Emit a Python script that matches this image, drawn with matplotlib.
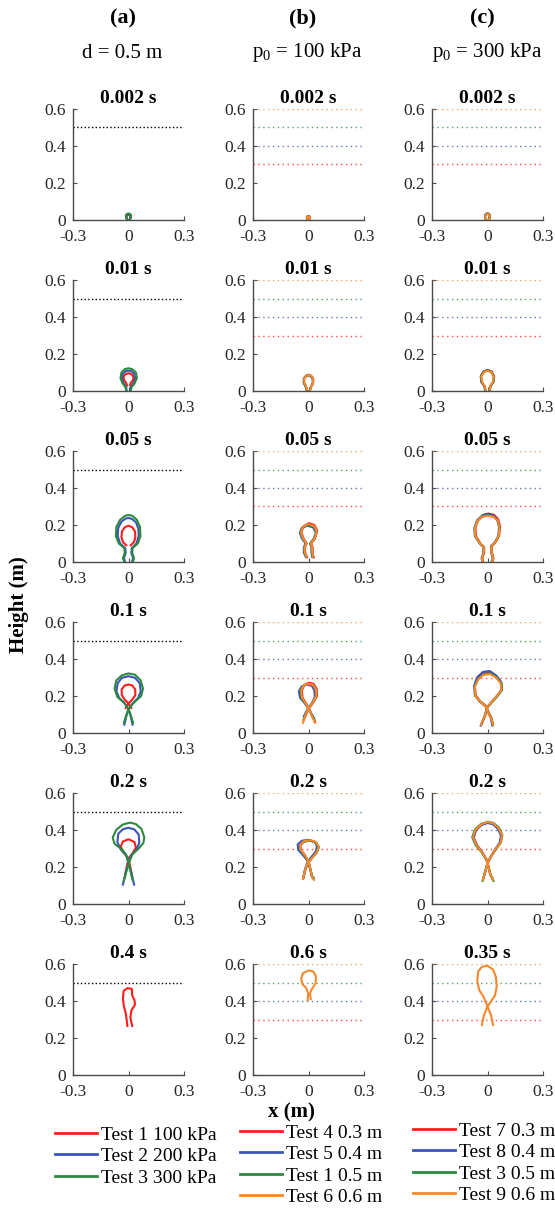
import matplotlib.pyplot as plt
from matplotlib.lines import Line2D

plt.rcParams['font.family'] = ['Liberation Serif', 'DejaVu Serif']
plt.rcParams['mathtext.fontset'] = 'custom'
plt.rcParams['mathtext.rm'] = 'Liberation Serif'

RED = '#ff1c1c'
BLUE = '#3a55b4'
GREEN = '#2b8a3e'
ORANGE = '#f7882c'
AXC = '#4a4a4a'

# ---- data: bubble outlines (x, height) in m ----
# column (a): d = 0.5 m, Test 1/2/3
A1_RED = [(-0.005, 0.0), (-0.01, 0.01), (-0.011, 0.02), (-0.006, 0.026), (0.0, 0.028), (0.006, 0.026), (0.011, 0.02), (0.01, 0.01), (0.005, 0.0)]
A1_BLUE = [(-0.006, 0.0), (-0.011, 0.012), (-0.012, 0.024), (-0.007, 0.031), (0.0, 0.033), (0.007, 0.031), (0.012, 0.024), (0.011, 0.012), (0.006, 0.0)]
A1_GREEN = [(-0.007, 0.0), (-0.013, 0.012), (-0.014, 0.026), (-0.008, 0.033), (0.0, 0.035), (0.008, 0.033), (0.014, 0.026), (0.013, 0.012), (0.007, 0.0)]

A2_RED = [(-0.008, 0.03), (-0.013, 0.045), (-0.025, 0.06), (-0.026, 0.078), (-0.016, 0.091), (0.0, 0.096), (0.016, 0.091), (0.026, 0.078), (0.025, 0.06), (0.013, 0.045), (0.008, 0.03)]
A2_BLUE = [(-0.01, 0.0), (-0.012, 0.02), (-0.028, 0.045), (-0.036, 0.07), (-0.03, 0.095), (-0.015, 0.107), (0.0, 0.11), (0.015, 0.107), (0.03, 0.095), (0.036, 0.07), (0.028, 0.045), (0.012, 0.02), (0.01, 0.0)]
A2_GREEN = [(-0.012, 0.0), (-0.016, 0.02), (-0.032, 0.042), (-0.043, 0.07), (-0.038, 0.1), (-0.02, 0.118), (0.0, 0.123), (0.02, 0.118), (0.04, 0.1), (0.045, 0.07), (0.033, 0.042), (0.016, 0.02), (0.012, 0.0)]

A3_RED = [(-0.012, 0.09), (-0.03, 0.108), (-0.038, 0.135), (-0.035, 0.165), (-0.02, 0.188), (0.0, 0.196), (0.02, 0.188), (0.035, 0.165), (0.037, 0.135), (0.03, 0.108), (0.012, 0.09)]
A3_BLUE = [(-0.018, 0.0), (-0.025, 0.02), (-0.015, 0.05), (-0.018, 0.075), (-0.045, 0.1), (-0.058, 0.14), (-0.055, 0.185), (-0.038, 0.218), (-0.015, 0.235), (0.0, 0.238), (0.018, 0.233), (0.04, 0.215), (0.053, 0.18), (0.055, 0.14), (0.043, 0.1), (0.018, 0.075), (0.015, 0.05), (0.025, 0.02), (0.018, 0.0)]
A3_GREEN = [(-0.022, 0.0), (-0.03, 0.02), (-0.02, 0.05), (-0.022, 0.075), (-0.052, 0.1), (-0.068, 0.14), (-0.065, 0.19), (-0.045, 0.228), (-0.018, 0.25), (0.0, 0.254), (0.02, 0.25), (0.045, 0.228), (0.062, 0.19), (0.064, 0.14), (0.05, 0.1), (0.022, 0.075), (0.02, 0.05), (0.03, 0.02), (0.022, 0.0)]

A4_RED = [(0.015, 0.135), (0.0, 0.16), (-0.02, 0.18), (-0.036, 0.205), (-0.037, 0.235), (-0.022, 0.256), (0.0, 0.262), (0.02, 0.257), (0.036, 0.235), (0.037, 0.205), (0.02, 0.18), (0.0, 0.16), (-0.015, 0.135)]
A4_BLUE = [(0.022, 0.045), (0.012, 0.09), (0.0, 0.13), (-0.02, 0.16), (-0.05, 0.19), (-0.065, 0.225), (-0.058, 0.27), (-0.035, 0.298), (0.0, 0.307), (0.035, 0.298), (0.06, 0.27), (0.066, 0.225), (0.052, 0.19), (0.022, 0.16), (0.0, 0.13), (-0.012, 0.09), (-0.022, 0.045)]
A4_GREEN = [(0.025, 0.055), (0.012, 0.095), (0.0, 0.13), (-0.025, 0.165), (-0.06, 0.195), (-0.075, 0.24), (-0.065, 0.285), (-0.035, 0.312), (0.0, 0.322), (0.035, 0.315), (0.065, 0.285), (0.078, 0.24), (0.068, 0.2), (0.03, 0.165), (0.0, 0.13), (-0.012, 0.095), (-0.025, 0.055)]

A5_RED = [(-0.02, 0.145), (-0.01, 0.2), (0.0, 0.245), (0.022, 0.275), (0.04, 0.305), (0.032, 0.335), (0.0, 0.35), (-0.03, 0.338), (-0.042, 0.31), (-0.025, 0.278), (0.0, 0.245), (0.01, 0.2), (0.02, 0.145)]
A5_BLUE = [(-0.03, 0.105), (-0.015, 0.17), (0.0, 0.22), (0.012, 0.26), (0.04, 0.29), (0.058, 0.33), (0.055, 0.375), (0.032, 0.403), (0.0, 0.412), (-0.03, 0.404), (-0.055, 0.38), (-0.06, 0.335), (-0.042, 0.295), (-0.012, 0.262), (0.0, 0.22), (0.015, 0.17), (0.03, 0.105)]
A5_GREEN = [(-0.025, 0.125), (-0.01, 0.18), (0.005, 0.23), (0.022, 0.27), (0.055, 0.3), (0.08, 0.33), (0.085, 0.36), (0.07, 0.405), (0.04, 0.432), (0.008, 0.44), (-0.03, 0.43), (-0.065, 0.402), (-0.085, 0.36), (-0.075, 0.325), (-0.04, 0.3), (-0.015, 0.27), (0.0, 0.23), (0.01, 0.18), (0.022, 0.13)]

A6_RED = [(-0.006, 0.265), (-0.01, 0.3), (-0.015, 0.335), (-0.025, 0.37), (-0.03, 0.415), (-0.026, 0.455), (-0.005, 0.47), (0.018, 0.465), (0.02, 0.43), (0.032, 0.405), (0.035, 0.38), (0.016, 0.35), (0.01, 0.31), (0.02, 0.265)]

# column (b): p0 = 100 kPa, Test 4/5/1/6
B1_RED = [(-0.004, 0.0), (-0.008, 0.008), (-0.008, 0.016), (0.0, 0.021), (0.008, 0.016), (0.008, 0.008), (0.004, 0.0)]
B1_BLUE = [(-0.005, 0.0), (-0.009, 0.008), (-0.009, 0.017), (-0.001, 0.022), (0.007, 0.017), (0.008, 0.008), (0.004, 0.0)]
B1_GREEN = [(-0.004, 0.0), (-0.008, 0.009), (-0.008, 0.017), (0.0, 0.022), (0.008, 0.017), (0.008, 0.009), (0.004, 0.0)]
B1_ORANGE = [(-0.004, 0.0), (-0.008, 0.008), (-0.008, 0.016), (0.0, 0.02), (0.008, 0.016), (0.008, 0.008), (0.004, 0.0)]

B2_RED = [(-0.008, 0.005), (-0.012, 0.02), (-0.024, 0.045), (-0.024, 0.07), (-0.012, 0.084), (0.0, 0.088), (0.012, 0.084), (0.025, 0.07), (0.025, 0.045), (0.013, 0.02), (0.008, 0.005)]
B2_BLUE = [(-0.01, 0.005), (-0.014, 0.02), (-0.026, 0.045), (-0.025, 0.068), (-0.013, 0.08), (-0.002, 0.084), (0.01, 0.08), (0.022, 0.068), (0.023, 0.045), (0.012, 0.02), (0.007, 0.005)]
B2_GREEN = [(-0.009, 0.005), (-0.013, 0.02), (-0.025, 0.045), (-0.024, 0.069), (-0.012, 0.082), (0.0, 0.085), (0.012, 0.082), (0.024, 0.069), (0.024, 0.045), (0.013, 0.02), (0.008, 0.005)]
B2_ORANGE = [(-0.008, 0.008), (-0.012, 0.022), (-0.023, 0.045), (-0.023, 0.068), (-0.011, 0.082), (0.001, 0.086), (0.013, 0.082), (0.025, 0.068), (0.024, 0.045), (0.013, 0.022), (0.009, 0.008)]

B3_RED = [(-0.008, 0.025), (-0.018, 0.05), (-0.019, 0.08), (-0.01, 0.1), (-0.028, 0.13), (-0.038, 0.16), (-0.028, 0.192), (0.002, 0.21), (0.032, 0.2), (0.047, 0.168), (0.034, 0.125), (0.014, 0.1), (0.022, 0.08), (0.022, 0.05), (0.028, 0.025)]
B3_BLUE = [(-0.014, 0.028), (-0.025, 0.05), (-0.025, 0.08), (-0.016, 0.1), (-0.036, 0.128), (-0.046, 0.158), (-0.036, 0.185), (-0.006, 0.196), (0.024, 0.188), (0.04, 0.16), (0.028, 0.125), (0.008, 0.1), (0.016, 0.08), (0.016, 0.05), (0.02, 0.028)]
B3_GREEN = [(-0.012, 0.03), (-0.022, 0.05), (-0.022, 0.08), (-0.013, 0.1), (-0.032, 0.13), (-0.042, 0.16), (-0.032, 0.188), (-0.002, 0.2), (0.028, 0.192), (0.043, 0.162), (0.03, 0.125), (0.01, 0.1), (0.018, 0.08), (0.018, 0.05), (0.022, 0.03)]
B3_ORANGE = [(-0.01, 0.03), (-0.02, 0.05), (-0.021, 0.08), (-0.012, 0.1), (-0.03, 0.13), (-0.04, 0.16), (-0.03, 0.19), (0.0, 0.205), (0.03, 0.195), (0.045, 0.165), (0.032, 0.125), (0.012, 0.1), (0.02, 0.08), (0.02, 0.05), (0.025, 0.03)]

B4_RED = [(0.036, 0.06), (0.016, 0.1), (0.002, 0.135), (-0.013, 0.16), (-0.032, 0.19), (-0.036, 0.23), (-0.022, 0.26), (0.003, 0.272), (0.028, 0.265), (0.044, 0.238), (0.046, 0.2), (0.028, 0.17), (0.012, 0.145), (0.002, 0.135), (-0.012, 0.1), (-0.026, 0.07)]
B4_BLUE = [(0.03, 0.08), (0.012, 0.11), (-0.002, 0.135), (-0.02, 0.16), (-0.045, 0.19), (-0.052, 0.225), (-0.036, 0.252), (-0.008, 0.262), (0.018, 0.255), (0.032, 0.23), (0.034, 0.195), (0.02, 0.165), (0.006, 0.145), (-0.002, 0.135), (-0.015, 0.11), (-0.025, 0.09)]
B4_GREEN = [(0.032, 0.07), (0.014, 0.105), (0.0, 0.135), (-0.016, 0.16), (-0.038, 0.19), (-0.043, 0.228), (-0.028, 0.256), (-0.002, 0.266), (0.024, 0.26), (0.04, 0.234), (0.042, 0.198), (0.025, 0.168), (0.01, 0.145), (0.0, 0.135), (-0.013, 0.105), (-0.026, 0.075)]
B4_ORANGE = [(0.035, 0.055), (0.015, 0.1), (0.0, 0.135), (-0.015, 0.16), (-0.035, 0.19), (-0.04, 0.23), (-0.025, 0.258), (0.0, 0.267), (0.025, 0.26), (0.04, 0.235), (0.042, 0.2), (0.025, 0.17), (0.01, 0.145), (0.0, 0.135), (-0.015, 0.1), (-0.03, 0.055)]

B5_RED = [(-0.028, 0.14), (-0.018, 0.18), (-0.004, 0.22), (0.02, 0.25), (0.044, 0.28), (0.054, 0.31), (0.04, 0.333), (0.01, 0.343), (-0.024, 0.338), (-0.044, 0.318), (-0.04, 0.29), (-0.02, 0.265), (0.0, 0.23), (0.01, 0.19), (0.018, 0.15), (0.026, 0.14)]
B5_BLUE = [(-0.026, 0.15), (-0.018, 0.19), (-0.006, 0.225), (0.016, 0.255), (0.04, 0.285), (0.046, 0.315), (0.032, 0.337), (0.0, 0.347), (-0.035, 0.342), (-0.058, 0.322), (-0.055, 0.292), (-0.03, 0.265), (-0.004, 0.232), (0.008, 0.19), (0.016, 0.155)]
B5_GREEN = [(-0.028, 0.14), (-0.02, 0.18), (-0.005, 0.22), (0.018, 0.25), (0.045, 0.278), (0.055, 0.305), (0.042, 0.33), (0.01, 0.342), (-0.026, 0.337), (-0.046, 0.318), (-0.042, 0.29), (-0.022, 0.265), (0.0, 0.23), (0.01, 0.19), (0.02, 0.15), (0.028, 0.14)]
B5_ORANGE = [(-0.03, 0.135), (-0.02, 0.18), (-0.005, 0.22), (0.02, 0.25), (0.045, 0.28), (0.055, 0.31), (0.04, 0.335), (0.01, 0.345), (-0.025, 0.34), (-0.045, 0.32), (-0.04, 0.29), (-0.02, 0.265), (0.0, 0.23), (0.01, 0.19), (0.02, 0.14), (0.03, 0.13)]

B6_ORANGE = [(-0.004, 0.405), (-0.002, 0.44), (-0.012, 0.47), (-0.032, 0.49), (-0.04, 0.52), (-0.03, 0.55), (0.0, 0.565), (0.025, 0.56), (0.04, 0.535), (0.038, 0.495), (0.018, 0.465), (0.008, 0.44), (0.012, 0.41)]

# column (c): p0 = 300 kPa, Test 7/8/3/9
C1_RED = [(-0.007, 0.0), (-0.013, 0.012), (-0.013, 0.026), (-0.006, 0.034), (0.0, 0.036), (0.006, 0.034), (0.013, 0.026), (0.013, 0.012), (0.007, 0.0)]
C1_BLUE = [(-0.008, 0.0), (-0.014, 0.012), (-0.014, 0.025), (-0.007, 0.033), (0.0, 0.035), (0.007, 0.033), (0.013, 0.025), (0.013, 0.012), (0.007, 0.0)]
C1_GREEN = [(-0.007, 0.0), (-0.013, 0.012), (-0.013, 0.024), (-0.006, 0.032), (0.0, 0.034), (0.006, 0.032), (0.013, 0.024), (0.013, 0.012), (0.007, 0.0)]
C1_ORANGE = [(-0.007, 0.0), (-0.012, 0.012), (-0.012, 0.024), (-0.006, 0.031), (0.0, 0.033), (0.006, 0.031), (0.012, 0.024), (0.012, 0.012), (0.007, 0.0)]

C2_RED = [(-0.012, 0.005), (-0.016, 0.025), (-0.033, 0.05), (-0.036, 0.08), (-0.021, 0.106), (0.0, 0.114), (0.021, 0.106), (0.036, 0.08), (0.033, 0.05), (0.016, 0.025), (0.012, 0.005)]
C2_BLUE = [(-0.013, 0.005), (-0.017, 0.025), (-0.034, 0.05), (-0.036, 0.08), (-0.022, 0.104), (-0.001, 0.112), (0.02, 0.104), (0.034, 0.08), (0.032, 0.05), (0.015, 0.025), (0.011, 0.005)]
C2_GREEN = [(-0.012, 0.005), (-0.015, 0.025), (-0.032, 0.05), (-0.035, 0.08), (-0.02, 0.105), (0.0, 0.112), (0.02, 0.105), (0.035, 0.08), (0.032, 0.05), (0.015, 0.025), (0.012, 0.005)]
C2_ORANGE = [(-0.011, 0.008), (-0.014, 0.026), (-0.03, 0.05), (-0.033, 0.078), (-0.019, 0.102), (0.0, 0.109), (0.019, 0.102), (0.033, 0.078), (0.03, 0.05), (0.014, 0.026), (0.011, 0.008)]

C3_RED = [(-0.022, 0.0), (-0.028, 0.02), (-0.018, 0.05), (-0.018, 0.08), (-0.038, 0.1), (-0.062, 0.14), (-0.065, 0.185), (-0.05, 0.228), (-0.022, 0.255), (0.005, 0.262), (0.035, 0.255), (0.058, 0.23), (0.068, 0.19), (0.062, 0.14), (0.042, 0.105), (0.022, 0.085), (0.024, 0.05), (0.032, 0.02), (0.026, 0.0)]
C3_BLUE = [(-0.026, 0.0), (-0.032, 0.02), (-0.022, 0.05), (-0.022, 0.08), (-0.042, 0.1), (-0.068, 0.14), (-0.07, 0.185), (-0.056, 0.225), (-0.028, 0.252), (0.0, 0.26), (0.03, 0.252), (0.052, 0.228), (0.062, 0.188), (0.058, 0.14), (0.038, 0.105), (0.018, 0.085), (0.02, 0.05), (0.028, 0.02), (0.022, 0.0)]
C3_GREEN = [(-0.024, 0.0), (-0.03, 0.02), (-0.02, 0.05), (-0.02, 0.08), (-0.04, 0.1), (-0.066, 0.14), (-0.069, 0.182), (-0.055, 0.222), (-0.03, 0.245), (0.0, 0.252), (0.03, 0.246), (0.055, 0.225), (0.065, 0.186), (0.06, 0.14), (0.04, 0.105), (0.02, 0.085), (0.022, 0.05), (0.03, 0.02), (0.024, 0.0)]
C3_ORANGE = [(-0.025, 0.0), (-0.03, 0.02), (-0.02, 0.05), (-0.02, 0.08), (-0.04, 0.1), (-0.065, 0.14), (-0.068, 0.18), (-0.055, 0.22), (-0.03, 0.245), (0.0, 0.25), (0.03, 0.245), (0.055, 0.225), (0.065, 0.185), (0.06, 0.14), (0.04, 0.105), (0.02, 0.085), (0.022, 0.05), (0.03, 0.02), (0.025, 0.0)]

C4_RED = [(-0.03, 0.05), (-0.012, 0.095), (0.0, 0.14), (0.026, 0.17), (0.052, 0.2), (0.076, 0.235), (0.072, 0.272), (0.046, 0.305), (0.012, 0.325), (-0.022, 0.322), (-0.052, 0.295), (-0.068, 0.255), (-0.064, 0.205), (-0.04, 0.172), (-0.01, 0.148), (0.002, 0.12), (0.02, 0.085), (0.028, 0.05)]
C4_BLUE = [(-0.036, 0.04), (-0.016, 0.09), (-0.002, 0.14), (0.024, 0.17), (0.05, 0.2), (0.078, 0.235), (0.074, 0.275), (0.048, 0.31), (0.012, 0.335), (-0.025, 0.33), (-0.056, 0.3), (-0.072, 0.255), (-0.068, 0.205), (-0.042, 0.17), (-0.012, 0.145), (0.0, 0.12), (0.018, 0.08), (0.026, 0.04)]
C4_GREEN = [(-0.032, 0.05), (-0.014, 0.092), (0.0, 0.14), (0.026, 0.168), (0.052, 0.198), (0.078, 0.232), (0.074, 0.27), (0.048, 0.302), (0.015, 0.322), (-0.02, 0.318), (-0.05, 0.292), (-0.068, 0.25), (-0.066, 0.2), (-0.04, 0.17), (-0.01, 0.146), (0.0, 0.12), (0.02, 0.082), (0.03, 0.048)]
C4_ORANGE = [(-0.035, 0.045), (-0.015, 0.09), (0.0, 0.14), (0.025, 0.17), (0.05, 0.2), (0.075, 0.235), (0.07, 0.27), (0.045, 0.3), (0.015, 0.318), (-0.02, 0.315), (-0.05, 0.29), (-0.068, 0.25), (-0.065, 0.2), (-0.04, 0.17), (-0.01, 0.145), (0.0, 0.12), (0.02, 0.08), (0.03, 0.045)]

C5_RED = [(-0.022, 0.14), (-0.01, 0.18), (0.0, 0.22), (0.02, 0.26), (0.045, 0.298), (0.068, 0.33), (0.075, 0.37), (0.058, 0.41), (0.03, 0.434), (0.0, 0.44), (-0.034, 0.428), (-0.062, 0.4), (-0.075, 0.36), (-0.058, 0.32), (-0.03, 0.282), (-0.005, 0.24), (0.005, 0.2), (0.015, 0.16), (0.028, 0.135)]
C5_BLUE = [(-0.024, 0.135), (-0.01, 0.18), (0.0, 0.22), (0.02, 0.26), (0.044, 0.3), (0.066, 0.332), (0.072, 0.37), (0.055, 0.408), (0.028, 0.432), (0.0, 0.438), (-0.034, 0.426), (-0.062, 0.398), (-0.074, 0.358), (-0.058, 0.32), (-0.03, 0.282), (-0.005, 0.24), (0.005, 0.2), (0.015, 0.16), (0.028, 0.132)]
C5_GREEN = [(-0.026, 0.125), (-0.012, 0.18), (0.0, 0.22), (0.022, 0.262), (0.048, 0.3), (0.072, 0.332), (0.08, 0.372), (0.062, 0.412), (0.032, 0.438), (0.0, 0.444), (-0.036, 0.432), (-0.068, 0.402), (-0.082, 0.36), (-0.064, 0.318), (-0.032, 0.28), (-0.006, 0.238), (0.006, 0.2), (0.016, 0.16), (0.032, 0.125)]
C5_ORANGE = [(-0.025, 0.13), (-0.01, 0.18), (0.0, 0.22), (0.02, 0.26), (0.045, 0.3), (0.07, 0.33), (0.078, 0.37), (0.06, 0.41), (0.03, 0.437), (0.0, 0.443), (-0.035, 0.43), (-0.065, 0.4), (-0.078, 0.36), (-0.06, 0.32), (-0.03, 0.28), (-0.005, 0.24), (0.005, 0.2), (0.015, 0.16), (0.03, 0.13)]

C6_ORANGE = [(-0.03, 0.27), (-0.02, 0.32), (0.0, 0.37), (0.02, 0.4), (0.04, 0.43), (0.05, 0.48), (0.045, 0.53), (0.03, 0.57), (0.0, 0.59), (-0.03, 0.585), (-0.05, 0.56), (-0.055, 0.51), (-0.045, 0.46), (-0.02, 0.42), (0.0, 0.37), (0.02, 0.32), (0.03, 0.27)]

TIMES_A = ['0.002 s', '0.01 s', '0.05 s', '0.1 s', '0.2 s', '0.4 s']
TIMES_B = ['0.002 s', '0.01 s', '0.05 s', '0.1 s', '0.2 s', '0.6 s']
TIMES_C = ['0.002 s', '0.01 s', '0.05 s', '0.1 s', '0.2 s', '0.35 s']

LEG_A = ['Test 1 100 kPa', 'Test 2 200 kPa', 'Test 3 300 kPa']
LEG_B = ['Test 4 0.3 m', 'Test 5 0.4 m', 'Test 1 0.5 m', 'Test 6 0.6 m']
LEG_C = ['Test 7 0.3 m', 'Test 8 0.4 m', 'Test 3 0.5 m', 'Test 9 0.6 m']

DEPTHS = [0.3, 0.4, 0.5, 0.6]   # dotted lines, columns (b) and (c)
DEPTH_A = 0.5                   # dotted line, column (a)

XTICKS = [-0.3, 0, 0.3]
XTICKLABELS = ['-0.3', '0', '0.3']
YTICKS = [0, 0.2, 0.4, 0.6]
YTICKLABELS = ['0', '0.2', '0.4', '0.6']

COLORS = [RED, BLUE, GREEN, ORANGE]
col_a = [[A1_RED, A1_BLUE, A1_GREEN], [A2_RED, A2_BLUE, A2_GREEN],
         [A3_RED, A3_BLUE, A3_GREEN], [A4_RED, A4_BLUE, A4_GREEN],
         [A5_RED, A5_BLUE, A5_GREEN], [A6_RED, None, None]]
col_b = [[B1_RED, B1_BLUE, B1_GREEN, B1_ORANGE], [B2_RED, B2_BLUE, B2_GREEN, B2_ORANGE],
         [B3_RED, B3_BLUE, B3_GREEN, B3_ORANGE], [B4_RED, B4_BLUE, B4_GREEN, B4_ORANGE],
         [B5_RED, B5_BLUE, B5_GREEN, B5_ORANGE], [None, None, None, B6_ORANGE]]
col_c = [[C1_RED, C1_BLUE, C1_GREEN, C1_ORANGE], [C2_RED, C2_BLUE, C2_GREEN, C2_ORANGE],
         [C3_RED, C3_BLUE, C3_GREEN, C3_ORANGE], [C4_RED, C4_BLUE, C4_GREEN, C4_ORANGE],
         [C5_RED, C5_BLUE, C5_GREEN, C5_ORANGE], [None, None, None, C6_ORANGE]]

W, H = 555, 1209
fig = plt.figure(figsize=(W / 100, H / 100), dpi=100)

lefts = [72.7, 252.7, 431.7]
tops = [109, 280, 451, 622, 793, 964]
aw, ah = 111.6, 111

columns = [(col_a, TIMES_A), (col_b, TIMES_B), (col_c, TIMES_C)]
for j, (panels, times) in enumerate(columns):
    for i in range(6):
        ax = fig.add_axes([lefts[j] / W, 1 - (tops[i] + ah) / H, aw / W, ah / H])
        if j == 0:
            ax.plot(XTICKS[::2], [DEPTH_A, DEPTH_A], ':', color='black', lw=1.0)
        else:
            for d, c in zip(DEPTHS, COLORS):
                ax.plot(XTICKS[::2], [d, d], color=c, lw=1.0, ls=(0, (1, 2.5)), alpha=0.8)
        for contour, c in zip(panels[i], COLORS):
            if contour is None:
                continue
            xs = [p[0] for p in contour]
            ys = [p[1] for p in contour]
            ax.plot(xs, ys, color=c, lw=1.5)
        ax.set_xlim(-0.3, 0.3)
        ax.set_ylim(0, 0.6)
        ax.set_xticks(XTICKS)
        ax.set_xticklabels(XTICKLABELS)
        ax.set_yticks(YTICKS)
        ax.set_yticklabels(YTICKLABELS)
        for s in ['top', 'right']:
            ax.spines[s].set_visible(False)
        for s in ['left', 'bottom']:
            ax.spines[s].set_color(AXC)
            ax.spines[s].set_linewidth(1.0)
        ax.tick_params(direction='in', length=3, width=0.8, colors=AXC,
                       labelcolor='#262626', labelsize=12.5, pad=5)
        ax.tick_params(axis='x', pad=6.5)
        ax.set_title(times[i], fontsize=14, fontweight='bold', pad=4)
        ax.patch.set_alpha(0)

# column headers
heads = [('(a)', 'd = 0.5 m', 123, 122),
         ('(b)', r'p$_0$ = 100 kPa', 303, 307),
         ('(c)', r'p$_0$ = 300 kPa', 482, 487)]
for lab, sub, xl, xs in heads:
    fig.text(xl / W, 1 - 18 / H, lab, ha='center', va='center', fontsize=16, fontweight='bold')
    fig.text(xs / W, 1 - 53 / H, sub, ha='center', va='center', fontsize=15)

fig.text(19 / W, 1 - 605 / H, 'Height (m)', rotation=90, ha='center', va='center',
         fontsize=15, fontweight='bold')
fig.text(291 / W, 1 - 1112 / H, 'x (m)', ha='center', va='center', fontsize=15, fontweight='bold')

# legends
leg_pos = [(LEG_A, COLORS[:3], 55, 1126), (LEG_B, COLORS, 240, 1124), (LEG_C, COLORS, 413, 1122)]
for labels, cols, x0, y0 in leg_pos:
    handles = [Line2D([], [], color=c, lw=2) for c in cols]
    fig.legend(handles, labels, loc='upper left', bbox_to_anchor=(x0 / W, 1 - y0 / H),
               frameon=False, fontsize=14, handlelength=2.15, handletextpad=0.23,
               labelspacing=0.2, borderaxespad=0, borderpad=0)

fig.savefig('out.png', dpi=100)
